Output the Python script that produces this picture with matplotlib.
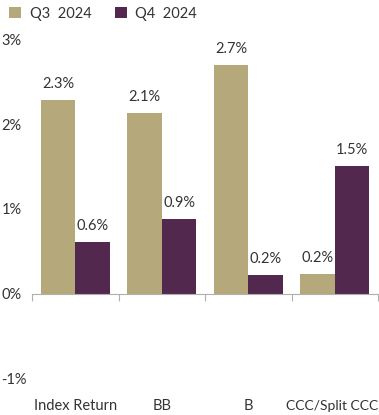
import numpy as np
from matplotlib import pyplot as plt
from matplotlib.transforms import blended_transform_factory

categories = ['Index Return', 'BB', 'B', 'CCC/Split CCC']
q3_2024 = [2.29, 2.14, 2.70, 0.23]
q4_2024 = [0.61, 0.88, 0.22, 1.51]
series_names = ['Q3  2024', 'Q4  2024']
y_ticks = [-1, 0, 1, 2, 3]

TAN = '#b5a87b'
PURPLE = '#52284f'
TEXT = '#333333'


def main():
    plt.rcParams['font.family'] = ['Lato', 'DejaVu Sans']
    fig = plt.figure(figsize=(3.79, 4.15), dpi=100)
    ax = fig.add_axes([32 / 379, 37 / 415, 346 / 379, 338 / 415])

    x = np.arange(len(categories))
    w = 0.4
    b1 = ax.bar(x - w / 2, q3_2024, w, color=TAN, label=series_names[0])
    b2 = ax.bar(x + w / 2, q4_2024, w, color=PURPLE, label=series_names[1])

    for bars in (b1, b2):
        for rect in bars:
            v = rect.get_height()
            ax.annotate(f'{v:.1f}%', (rect.get_x() + rect.get_width() / 2, v),
                        xytext=(0, 6.5), textcoords='offset points',
                        ha='center', va='bottom', fontsize=10.5, color=TEXT)

    ax.set_xlim(-0.5, len(categories) - 0.5)
    ax.set_ylim(-1, 3)

    for s in ['top', 'right', 'left']:
        ax.spines[s].set_visible(False)
    ax.spines['bottom'].set_position(('data', 0))
    ax.spines['bottom'].set_color('#b0b0b0')
    ax.set_xticks(np.arange(len(categories) + 1) - 0.5)
    ax.tick_params(axis='x', length=5, color='#b0b0b0', labelbottom=False)

    ax.set_yticks(y_ticks)
    ax.set_yticklabels([f'{t}%' for t in y_ticks])
    ax.tick_params(axis='y', length=0, pad=22, labelsize=10.5, labelcolor=TEXT)
    for lab in ax.get_yticklabels():
        lab.set_horizontalalignment('left')

    tr = blended_transform_factory(ax.transData, ax.transAxes)
    for i, c in enumerate(categories):
        if i == len(categories) - 1:
            ax.text(i + 0.5, -0.083, c, transform=tr, ha='right', va='center',
                    fontsize=10, color=TEXT)
        else:
            ax.text(i, -0.083, c, transform=tr, ha='center', va='center',
                    fontsize=10.5, color=TEXT)

    fig.legend(loc='upper left', bbox_to_anchor=(-0.01, 1.015), ncol=2,
               frameon=False, fontsize=10.5, handlelength=0.8, handleheight=0.8,
               handletextpad=0.6, columnspacing=1.6, labelcolor=TEXT)

    fig.savefig('out.png', dpi=100)


if __name__ == '__main__':
    main()
